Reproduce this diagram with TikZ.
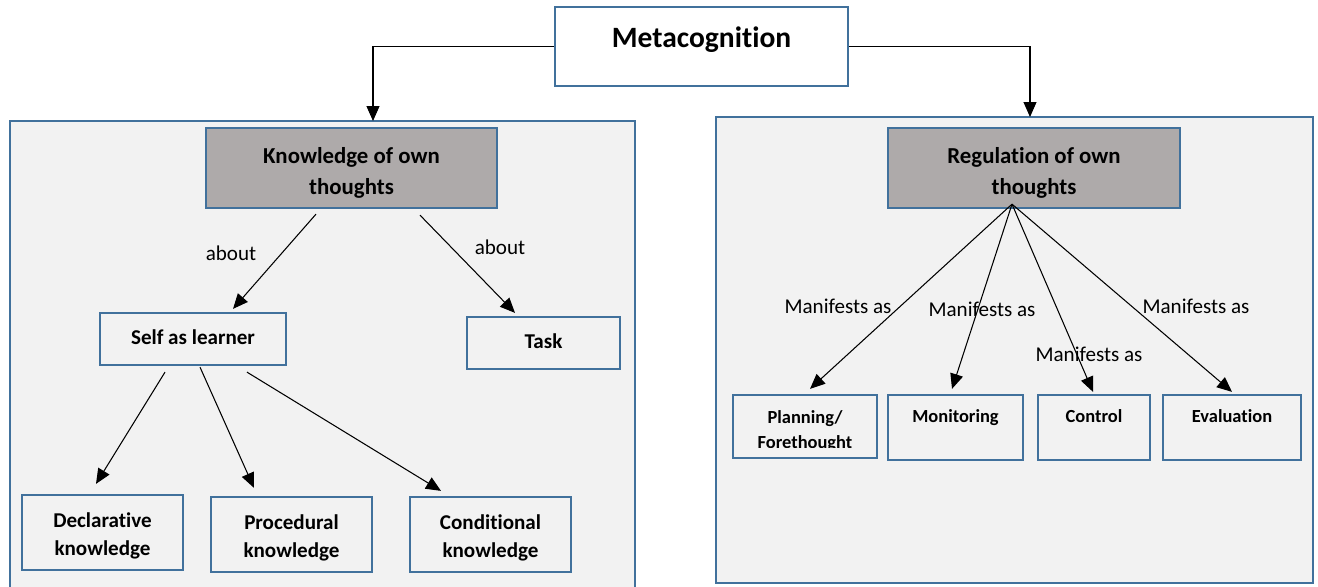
\documentclass[tikz,border=0pt]{standalone}
\usepackage{fontspec}
\setmainfont{Carlito}[Ligatures=NoCommon]
\usetikzlibrary{arrows.meta,calc}

\definecolor{boxblue}{HTML}{41719C}
\definecolor{panelgray}{HTML}{F2F2F2}
\definecolor{headgray}{HTML}{AEAAAA}

\begin{document}
\begin{tikzpicture}[x=0.02cm, y=-0.02cm,
        panel/.style    = {rectangle, draw = boxblue, fill = panelgray, line width = 1.1pt},
        topbox/.style   = {rectangle, draw = boxblue, fill = white, line width = 1.3pt},
        toptext/.style  = {text = black, font = \bfseries\fontsize{16.8}{20}\selectfont},
        headbox/.style  = {rectangle, draw = boxblue, fill = headgray, line width = 1.3pt},
        headtext/.style = {text = black, align = center, font = \bfseries\fontsize{13}{17.5}\selectfont},
        leafbox/.style  = {rectangle, draw = boxblue, fill = panelgray, line width = 1.3pt},
        leaftext/.style = {text = black, align = center, font = \bfseries\fontsize{12}{16}\selectfont},
        lowbox/.style   = {rectangle, draw = boxblue, fill = panelgray, line width = 1.3pt,
                           minimum height = 1.3cm},
        lowtext/.style  = {text = black, align = center, text height = 1.6ex, text depth = 0.4ex,
                           font = \bfseries\fontsize{10.5}{14}\selectfont},
        edgetext/.style = {text = black, font = \fontsize{12}{14}\selectfont},
        arr/.style      = {-{Triangle[length=0.3cm, width=0.26cm]}, line width = 0.6pt}]

        \useasboundingbox (0,0) rectangle (1318,586);

        % ---------------------------------------------------------------------------
        % Draw panels
        % ---------------------------------------------------------------------------
        \node[  panel,
                minimum width = 12.5cm,
                minimum height = 9.6cm]   (LeftPanel) at (322.5,361) {};

        \node[  panel,
                minimum width = 11.94cm,
                minimum height = 9.32cm]  (RightPanel) at (1014.5,350) {};

        % ---------------------------------------------------------------------------
        % Draw nodes
        % ---------------------------------------------------------------------------
        \node[  topbox,
                minimum width = 5.86cm,
                minimum height = 1.58cm,
                label = {[toptext, yshift=0.14cm]center:Metacognition}]  (Meta) at (701.5,46.5) {};

        \node[  headbox,
                minimum width = 5.82cm,
                minimum height = 1.6cm,
                label = {[headtext, yshift=-0.1cm]center:{Knowledge of own\\thoughts}}]   (Knowledge) at (351.5,168) {};

        \node[  headbox,
                minimum width = 5.84cm,
                minimum height = 1.6cm,
                label = {[headtext, yshift=-0.1cm]center:{Regulation of own\\thoughts}}]  (Regulation) at (1034,168) {};

        \node[  leafbox,
                minimum width = 3.72cm,
                minimum height = 1.04cm,
                label = {[leaftext, yshift=0.04cm]center:Self as learner}]  (Self) at (193,339) {};

        \node[  leafbox,
                minimum width = 3.06cm,
                minimum height = 1.04cm,
                label = {[leaftext, yshift=0.04cm]center:Task}]             (Task) at (543.5,343) {};

        \node[  leafbox,
                minimum width = 3.22cm,
                minimum height = 1.5cm,
                label = {[leaftext, yshift=-0.07cm]center:{Declarative\\knowledge}}]  (Declarative) at (102.5,532.5) {};

        \node[  leafbox,
                minimum width = 3.22cm,
                minimum height = 1.5cm,
                label = {[leaftext, yshift=-0.06cm]center:{Procedural\\knowledge}}]   (Procedural) at (291.5,534.5) {};

        \node[  leafbox,
                minimum width = 3.22cm,
                minimum height = 1.5cm,
                label = {[leaftext, yshift=-0.06cm]center:{Conditional\\knowledge}}]  (Conditional) at (490.5,534.5) {};

        \node[  lowbox,
                minimum width = 2.88cm,
                minimum height = 1.26cm]  (Planning) at (805,426.5) {};

        \node[  lowbox,
                minimum width = 2.7cm,
                label = {[lowtext, yshift=0.2cm]center:Monitoring}]  (Monitoring) at (955.5,427.5) {};

        \node[  lowbox,
                minimum width = 2.24cm,
                label = {[lowtext, yshift=0.2cm]center:Control}]     (Control) at (1094,427.5) {};

        \node[  lowbox,
                minimum width = 2.76cm,
                label = {[lowtext, yshift=0.2cm]center:Evaluation}]  (Evaluation) at (1232,427.5) {};

        % second line is cut off inside the box
        \begin{scope}
            \clip (Planning.north west) rectangle ($(Planning.south east)+(0,-12)$);
            \node[lowtext, text height=, text depth=] (PlanningText) at (805,431) {Planning/\\Forethought};
        \end{scope}

        % ---------------------------------------------------------------------------
        % Draw labels
        % ---------------------------------------------------------------------------
        \node[edgetext] (AboutSelf)     at (231,253)  {about};
        \node[edgetext] (AboutTask)     at (500,247)  {about};
        \node[edgetext] (ManifestsPlan) at (838,306)  {Manifests as};
        \node[edgetext] (ManifestsMon)  at (982,309)  {Manifests as};
        \node[edgetext] (ManifestsCtrl) at (1089,354) {Manifests as};
        \node[edgetext] (ManifestsEval) at (1196,306) {Manifests as};

        % ---------------------------------------------------------------------------
        % Draw arrows
        % ---------------------------------------------------------------------------
        \coordinate (LeftIn)  at (373,121);
        \coordinate (RightIn) at (1030,117);

        \draw [arr] (Meta.west) -| (LeftIn);                                                  % knowledge
        \draw [arr] (Meta.east) -| (RightIn);                                                 % regulation
        \draw [arr] ($(Knowledge.south)+(-35.5,5)$) -- ($(Self.north)+(40,-3)$);              % self
        \draw [arr] ($(Knowledge.south)+(68.5,6)$)  -- ($(Task.north)+(-28.5,-3)$);           % task
        \draw [arr] ($(Self.south)+(-28,6)$)        -- ($(Declarative.north)+(-6.5,-10)$);    % declarative
        \draw [arr] ($(Self.south)+(7,1)$)          -- ($(Procedural.north)+(-37.5,-8)$);     % procedural
        \draw [arr] ($(Self.south)+(54,6)$)         -- ($(Conditional.north)+(-49.5,-5)$);    % conditional
        \draw [arr] ($(Regulation.south)+(-22,-5)$) -- ($(Planning.north)+(5,-5)$);           % planning
        \draw [arr] ($(Regulation.south)+(-22,-5)$) -- ($(Monitoring.north)+(-3.5,-5)$);      % monitoring
        \draw [arr] ($(Regulation.south)+(-22,-5)$) -- ($(Control.north)+(-1,-2)$);           % control
        \draw [arr] ($(Regulation.south)+(-22,-5)$) -- ($(Evaluation.north)+(0,-2)$);         % evaluation

\end{tikzpicture}
\end{document}
